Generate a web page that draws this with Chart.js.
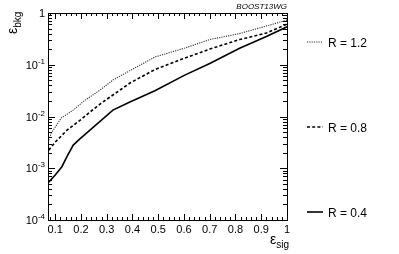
<!DOCTYPE html>
<html>
<head>
<meta charset="utf-8">
<script src="https://cdn.jsdelivr.net/npm/chart.js@4/dist/chart.umd.min.js"></script>
<style>
html,body{margin:0;padding:0;background:#fff;}
#wrap{position:relative;width:399px;height:254px;}
</style>
</head>
<body>
<div id="wrap"><canvas id="c" width="399" height="254"></canvas></div>
<script>
// ---- data ----
const sigR12 = [0.075, 0.085, 0.100, 0.123, 0.170, 0.212, 0.274, 0.324, 0.390, 0.487, 0.603, 0.700, 0.816, 0.920, 1.000];
const bkgR12 = [3.5e-3, 4.8e-3, 6.2e-3, 9.3e-3, 0.0133, 0.020, 0.0324, 0.0506, 0.077, 0.141, 0.21, 0.307, 0.40, 0.56, 0.73];

const sigR08 = [0.075, 0.100, 0.146, 0.197, 0.235, 0.274, 0.324, 0.390, 0.487, 0.603, 0.700, 0.816, 0.920, 1.000];
const bkgR08 = [2.24e-3, 3.2e-3, 5.46e-3, 8.5e-3, 0.0122, 0.0174, 0.026, 0.0443, 0.0807, 0.135, 0.201, 0.307, 0.41, 0.61];

const sigR04 = [0.075, 0.100, 0.126, 0.146, 0.170, 0.197, 0.324, 0.390, 0.487, 0.603, 0.700, 0.816, 0.920, 1.000];
const bkgR04 = [5.4e-4, 7.4e-4, 1.07e-3, 1.7e-3, 2.8e-3, 3.75e-3, 0.0133, 0.019, 0.0314, 0.063, 0.106, 0.208, 0.351, 0.54];

const seriesLabels = ["R = 1.2", "R = 0.8", "R = 0.4"];
const xTickLabels = ["0.1","0.2","0.3","0.4","0.5","0.6","0.7","0.8","0.9","1"];
const xTickValues = [0.1,0.2,0.3,0.4,0.5,0.6,0.7,0.8,0.9,1.0];
const yDecades = [-4,-3,-2,-1,0];
const xTitle = ["ε","sig"];
const yTitle = ["ε","bkg"];
const tagText = "BOOST13WG";

// ---- styles ----
const FONT = '"Liberation Sans", Arial, Helvetica, sans-serif';
const styles = [
  {color:'#333', width:1.1, dash:[1.2,1.1]},
  {color:'#000', width:1.6, dash:[3,2.2]},
  {color:'#000', width:1.6, dash:[]}
];
const legendY = [42, 127, 212];

function pts(xs, ys){ return xs.map((x,i)=>({x:x, y:ys[i]})); }

const rootPlugin = {
  id:'rootStyle',
  afterDraw(chart){
    const ctx = chart.ctx, a = chart.chartArea;
    const xs = chart.scales.x, ys = chart.scales.y;
    ctx.save();
    ctx.strokeStyle = '#000';
    ctx.fillStyle = '#000';
    ctx.lineWidth = 1;
    ctx.setLineDash([]);
    // frame
    ctx.strokeRect(Math.round(a.left)+0.5, Math.round(a.top)+0.5, Math.round(a.right-a.left), Math.round(a.bottom-a.top));
    // x ticks
    ctx.beginPath();
    for (let i=4;i<=50;i++){
      const v = i/50;
      if (v < xs.min) continue;
      const px = Math.round(xs.getPixelForValue(v))+0.5;
      const len = (i%5===0)?6:3;
      ctx.moveTo(px, a.bottom); ctx.lineTo(px, a.bottom-len);
      ctx.moveTo(px, a.top); ctx.lineTo(px, a.top+len);
    }
    // y ticks
    for (let d=-4; d<=0; d++){
      for (let k=1;k<=9;k++){
        if (d===0 && k>1) break;
        const v = k*Math.pow(10,d);
        const py = Math.round(ys.getPixelForValue(v))+0.5;
        const len = (k===1)?7:4;
        ctx.moveTo(a.left, py); ctx.lineTo(a.left+len, py);
        ctx.moveTo(a.right, py); ctx.lineTo(a.right-len, py);
      }
    }
    ctx.stroke();
    // x labels
    ctx.font = '11px '+FONT;
    ctx.textAlign = 'center';
    ctx.textBaseline = 'alphabetic';
    xTickValues.forEach((v,i)=>{
      ctx.fillText(xTickLabels[i], xs.getPixelForValue(v), a.bottom+13);
    });
    // y labels
    yDecades.forEach(d=>{
      const py = ys.getPixelForValue(Math.pow(10,d));
      const rx = a.left-3;
      if (d===0){
        ctx.font = '11px '+FONT; ctx.textAlign='right';
        ctx.fillText('1', rx, py+4);
      } else {
        const sup = String(d);
        ctx.font = '8px '+FONT;
        const sw = ctx.measureText(sup).width;
        ctx.textAlign='right';
        ctx.fillText(sup, rx, py-1);
        ctx.font = '11px '+FONT;
        ctx.fillText('10', rx-sw, py+4);
      }
    });
    // axis titles
    ctx.textAlign='left';
    ctx.font = '14px '+FONT;
    const ew = ctx.measureText(xTitle[0]).width;
    ctx.font = '10px '+FONT;
    const sw = ctx.measureText(xTitle[1]).width;
    const endX = a.right+2;
    ctx.font = '14px '+FONT;
    ctx.fillText(xTitle[0], endX-sw-ew, 244);
    ctx.font = '10px '+FONT;
    ctx.fillText(xTitle[1], endX-sw, 248);

    ctx.save();
    ctx.translate(17, 34);
    ctx.rotate(-Math.PI/2);
    ctx.font = '14px '+FONT;
    ctx.fillText(yTitle[0], 0, 0);
    const ew2 = ctx.measureText(yTitle[0]).width;
    ctx.font = '10px '+FONT;
    ctx.fillText(yTitle[1], ew2, 4);
    ctx.restore();

    // tag
    ctx.font = 'italic 8px '+FONT;
    ctx.textAlign='right';
    ctx.fillText(tagText, a.right, 9);

    // legend
    seriesLabels.forEach((t,i)=>{
      const st = styles[i];
      const y = legendY[i];
      ctx.beginPath();
      ctx.strokeStyle = st.color;
      ctx.lineWidth = st.width;
      ctx.setLineDash(st.dash);
      ctx.moveTo(307, y); ctx.lineTo(323, y);
      ctx.stroke();
      ctx.setLineDash([]);
      ctx.font = '12px '+FONT;
      ctx.textAlign='left';
      ctx.fillStyle='#000';
      ctx.fillText(t, 328, y+4.5);
    });
    ctx.restore();
  }
};

const datasets = [
  {label:seriesLabels[0], data:pts(sigR12,bkgR12)},
  {label:seriesLabels[1], data:pts(sigR08,bkgR08)},
  {label:seriesLabels[2], data:pts(sigR04,bkgR04)}
].map((d,i)=>Object.assign(d,{
  borderColor:styles[i].color, borderWidth:styles[i].width, borderDash:styles[i].dash,
  pointRadius:0, tension:0, fill:false
}));

new Chart(document.getElementById('c'), {
  type:'line',
  data:{datasets},
  options:{
    responsive:false, animation:false, devicePixelRatio:1,
    layout:{padding:{left:48, top:13, right:112, bottom:34}},
    plugins:{legend:{display:false}, tooltip:{enabled:false}},
    scales:{
      x:{type:'linear', min:0.072, max:1.0, display:false},
      y:{type:'logarithmic', min:1e-4, max:1, display:false}
    }
  },
  plugins:[rootPlugin]
});
</script>
</body>
</html>
